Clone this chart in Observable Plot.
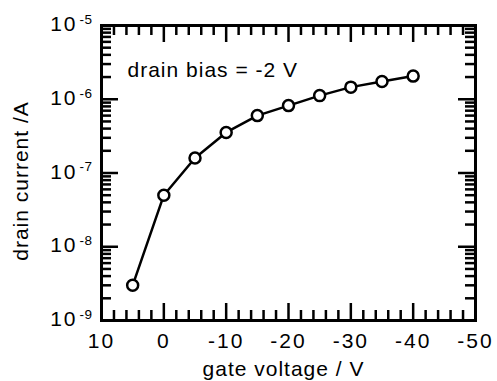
<!DOCTYPE html>
<html>
<head>
<meta charset="utf-8">
<script src="https://cdn.jsdelivr.net/npm/d3@7"></script>
<script src="https://cdn.jsdelivr.net/npm/@observablehq/plot@0.6"></script>
<style>
  html, body { margin: 0; padding: 0; background: #fff; }
  #chart svg { font-family: "Liberation Sans", Arial, Helvetica, sans-serif; }
  #chart svg text { letter-spacing: 1px; }
  #chart svg g.ticklab text { letter-spacing: 2px; }
  #chart svg g.expo text { letter-spacing: 0.5px; }
</style>
</head>
<body>
<div id="chart"></div>
<script>
// ---- data ----
const gateVoltage = [5, 0, -5, -10, -15, -20, -25, -30, -35, -40];
const drainCurrent = [3.0e-9, 5.0e-8, 1.6e-7, 3.55e-7, 6.0e-7, 8.2e-7, 1.12e-6, 1.46e-6, 1.74e-6, 2.06e-6];

// ---- ticks ----
const xMajorTicks = [10, 0, -10, -20, -30, -40, -50];
const xTickLabels = ["10", "0", "-10", "-20", "-30", "-40", "-50"];
const xMinorTicks = [8, 6, 4, 2, -2, -4, -6, -8, -12, -14, -16, -18, -22, -24, -26, -28, -32, -34, -36, -38, -42, -44, -46, -48];
const yMajorTicks = [1e-9, 1e-8, 1e-7, 1e-6, 1e-5];
const yTickExponents = ["-9", "-8", "-7", "-6", "-5"];
const yMinorMantissas = [2, 3, 4, 5, 6, 7, 8, 9];
const yDecades = [1e-9, 1e-8, 1e-7, 1e-6];

const xLabel = "gate voltage / V";
const yLabel = "drain current /A";
const note = "drain bias = -2 V";

const W = 497, H = 381, ML = 101, MR = 22, MT = 25, MB = 61;
const FW = W - ML - MR, FH = H - MT - MB;

const yMinorTicks = yDecades.flatMap(d => yMinorMantissas.map(m => m * d));
const points = gateVoltage.map((v, i) => ({v, c: drainCurrent[i]}));

const tickStyle = {stroke: "black", strokeWidth: 2.5};
function xTicks(data, len) {
  return [
    Plot.tickX(data, {x: d => d, insetTop: FH - len, ...tickStyle}),
    Plot.tickX(data, {x: d => d, insetBottom: FH - len, ...tickStyle})
  ];
}
function yTicks(data, len) {
  return [
    Plot.tickY(data, {y: d => d, insetRight: FW - len, ...tickStyle}),
    Plot.tickY(data, {y: d => d, insetLeft: FW - len, ...tickStyle})
  ];
}

const chart = Plot.plot({
  width: W,
  height: H,
  marginLeft: ML,
  marginRight: MR,
  marginTop: MT,
  marginBottom: MB,
  x: {domain: [10, -50], axis: null},
  y: {type: "log", domain: [1e-9, 1e-5], axis: null},
  marks: [
    ...xTicks(xMinorTicks, 10),
    ...xTicks(xMajorTicks, 17),
    ...yTicks(yMinorTicks, 10),
    ...yTicks(yMajorTicks, 17),
    Plot.frame({stroke: "black", strokeWidth: 3}),
    Plot.line(points, {x: "v", y: "c", stroke: "black", strokeWidth: 2.5}),
    Plot.dot(points, {x: "v", y: "c", r: 5.5, fill: "white", stroke: "black", strokeWidth: 2.5}),
    // x tick labels
    Plot.text(xMajorTicks, {x: d => d, text: (d, i) => xTickLabels[i], frameAnchor: "bottom", lineAnchor: "top", dy: 13, fontSize: 21, fill: "black", className: "ticklab"}),
    // y tick labels: "10" + exponent
    Plot.text(yMajorTicks, {y: d => d, text: () => "10", frameAnchor: "left", textAnchor: "end", dx: -24, dy: -1, fontSize: 21, fill: "black", className: "ticklab"}),
    Plot.text(yMajorTicks, {y: d => d, text: (d, i) => yTickExponents[i], frameAnchor: "left", textAnchor: "start", dx: -22, dy: -6, fontSize: 13.5, fill: "black", className: "expo"}),
    // annotation
    Plot.text([note], {text: d => d, frameAnchor: "top-left", textAnchor: "start", lineAnchor: "top", dx: 26, dy: 37, fontSize: 21, fill: "black"}),
    // axis labels
    Plot.text([xLabel], {text: d => d, frameAnchor: "bottom", textAnchor: "middle", lineAnchor: "bottom", dx: -5, dy: 55, fontSize: 21, fill: "black"}),
    Plot.text([yLabel], {text: d => d, frameAnchor: "left", textAnchor: "middle", rotate: -90, lineAnchor: "bottom", dx: -74, dy: 8, fontSize: 21, fill: "black"})
  ]
});
document.getElementById("chart").appendChild(chart);
</script>
</body>
</html>
